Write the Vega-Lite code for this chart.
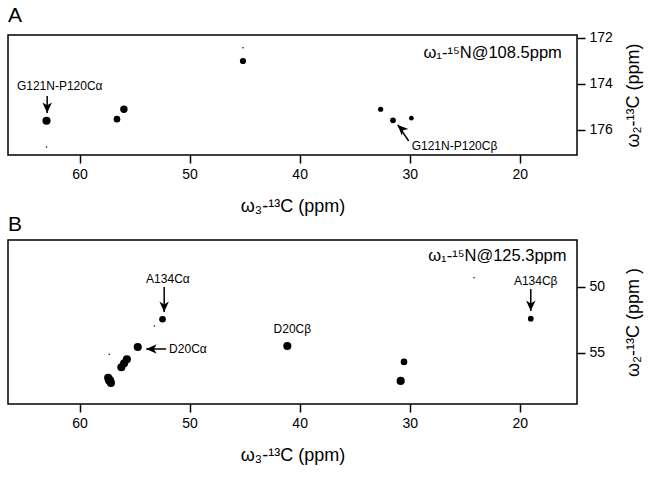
{
  "$schema": "https://vega.github.io/schema/vega-lite/v6.json",
  "background": "white",
  "padding": {"left": 7, "top": 4, "right": 4, "bottom": 4},
  "config": {
    "font": "Liberation Sans",
    "view": {"stroke": "#000", "strokeWidth": 1.5},
    "axis": {"grid": false, "domain": false, "tickColor": "#000", "tickWidth": 1.5, "tickSize": 8, "labelColor": "#000", "labelFontSize": 14, "titleFontSize": 18, "titleFontWeight": "normal", "titleColor": "#000", "labelPadding": 4},
    "title": {"fontSize": 21, "fontWeight": "normal", "anchor": "start", "color": "#000", "offset": 5},
    "concat": {"spacing": -3}
  },
  "datasets": {
    "peaksA": [
      {"x": 63.0, "y": 175.6, "intensity": 6},
      {"x": 63.0, "y": 176.74, "intensity": 0.2},
      {"x": 56.6, "y": 175.53, "intensity": 4},
      {"x": 55.97, "y": 175.1, "intensity": 5},
      {"x": 45.15, "y": 173.0, "intensity": 3.5},
      {"x": 45.15, "y": 172.42, "intensity": 0.2},
      {"x": 32.64, "y": 175.1, "intensity": 2.5},
      {"x": 31.52, "y": 175.58, "intensity": 3},
      {"x": 29.85, "y": 175.49, "intensity": 2}
    ],
    "arrowsA": [
      {"x": 62.94, "y": 175.26, "tx": 62.94, "ty": 174.52, "dir": "down"},
      {"x": 31.09, "y": 175.78, "tx": 30.09, "ty": 176.48, "dir": "upleft"}
    ],
    "labelsCenterA": [{"x": 61.8, "y": 174.09, "label": "G121N-P120Cα"}],
    "labelsLeftA": [{"x": 29.82, "y": 176.7, "label": "G121N-P120Cβ"}],
    "headerA": [{"x": 16.18, "y": 172.65, "label": "ω₁-¹⁵N@108.5ppm"}],
    "peaksB": [
      {"x": 52.46, "y": 52.47, "intensity": 4},
      {"x": 53.2, "y": 52.98, "intensity": 0.2},
      {"x": 54.71, "y": 54.57, "intensity": 6},
      {"x": 57.3, "y": 55.12, "intensity": 0.2},
      {"x": 55.7, "y": 55.5, "intensity": 6},
      {"x": 55.95, "y": 55.8, "intensity": 6},
      {"x": 56.2, "y": 56.1, "intensity": 6},
      {"x": 57.4, "y": 56.9, "intensity": 6},
      {"x": 57.27, "y": 57.1, "intensity": 8},
      {"x": 57.15, "y": 57.3, "intensity": 6},
      {"x": 41.12, "y": 54.49, "intensity": 6},
      {"x": 30.52, "y": 55.7, "intensity": 4},
      {"x": 30.82, "y": 57.14, "intensity": 6},
      {"x": 19.0, "y": 52.42, "intensity": 3},
      {"x": 24.15, "y": 49.32, "intensity": 0.2}
    ],
    "arrowsB": [
      {"x": 52.31, "y": 51.92, "tx": 52.31, "ty": 50.02, "dir": "down"},
      {"x": 53.94, "y": 54.72, "tx": 52.13, "ty": 54.72, "dir": "left"},
      {"x": 19.0, "y": 51.84, "tx": 19.0, "ty": 50.17, "dir": "down"}
    ],
    "labelsCenterB": [
      {"x": 51.97, "y": 49.44, "label": "A134Cα"},
      {"x": 40.66, "y": 53.23, "label": "D20Cβ"},
      {"x": 18.55, "y": 49.57, "label": "A134Cβ"}
    ],
    "labelsLeftB": [{"x": 51.86, "y": 54.72, "label": "D20Cα"}],
    "headerB": [{"x": 15.75, "y": 47.67, "label": "ω₁-¹⁵N@125.3ppm"}]
  },
  "vconcat": [
    {
      "title": "A",
      "width": 569,
      "height": 120,
      "encoding": {
        "x": {"field": "x", "type": "quantitative", "scale": {"domain": [14.8, 66.5], "reverse": true, "nice": false, "zero": false}, "axis": {"values": [60, 50, 40, 30, 20], "title": "ω₃-¹³C (ppm)", "titlePadding": 16}},
        "y": {"field": "y", "type": "quantitative", "scale": {"domain": [171.87, 177.09], "reverse": true, "nice": false, "zero": false}, "axis": {"orient": "right", "values": [172, 174, 176], "title": "ω₂-¹³C (ppm)", "titleAngle": 270, "titleBaseline": "top", "titlePadding": 12}}
      },
      "layer": [
        {"data": {"name": "peaksA"}, "mark": {"type": "point", "filled": true, "shape": "circle", "color": "#000", "opacity": 1},
         "encoding": {"size": {"field": "intensity", "type": "quantitative", "scale": {"domain": [0, 10], "range": [0, 110]}, "legend": null}}},
        {"data": {"name": "arrowsA"}, "mark": {"type": "rule", "color": "#000", "strokeWidth": 1.5},
         "encoding": {"x2": {"field": "tx"}, "y2": {"field": "ty"}}},
        {"data": {"name": "arrowsA"}, "mark": {"type": "point", "filled": true, "color": "#000", "opacity": 1, "size": 90},
         "encoding": {"shape": {"field": "dir", "type": "nominal", "scale": {"domain": ["down", "left", "upleft"], "range": ["M0,0 L-1,-2.2 L0,-1.6 L1,-2.2 Z", "M0,0 L2.2,-1 L1.6,0 L2.2,1 Z", "M0,0 L2.26,0.85 L1.13,1.13 L0.85,2.26 Z"]}, "legend": null}}},
        {"data": {"name": "labelsCenterA"}, "mark": {"type": "text", "align": "center", "baseline": "middle", "fontSize": 12, "color": "#000"},
         "encoding": {"text": {"field": "label"}}},
        {"data": {"name": "labelsLeftA"}, "mark": {"type": "text", "align": "left", "baseline": "middle", "fontSize": 12, "color": "#000"},
         "encoding": {"text": {"field": "label"}}},
        {"data": {"name": "headerA"}, "mark": {"type": "text", "align": "right", "baseline": "middle", "fontSize": 16.5, "color": "#000"},
         "encoding": {"text": {"field": "label"}}}
      ]
    },
    {
      "title": "B",
      "width": 569,
      "height": 164,
      "encoding": {
        "x": {"field": "x", "type": "quantitative", "scale": {"domain": [14.8, 66.5], "reverse": true, "nice": false, "zero": false}, "axis": {"values": [60, 50, 40, 30, 20], "title": "ω₃-¹³C (ppm)", "titlePadding": 16}},
        "y": {"field": "y", "type": "quantitative", "scale": {"domain": [46.46, 58.89], "reverse": true, "nice": false, "zero": false}, "axis": {"orient": "right", "values": [50, 55], "title": "ω₂-¹³C (ppm )", "titleAngle": 270, "titleBaseline": "top", "titlePadding": 20}}
      },
      "layer": [
        {"data": {"name": "peaksB"}, "mark": {"type": "point", "filled": true, "shape": "circle", "color": "#000", "opacity": 1},
         "encoding": {"size": {"field": "intensity", "type": "quantitative", "scale": {"domain": [0, 10], "range": [0, 110]}, "legend": null}}},
        {"data": {"name": "arrowsB"}, "mark": {"type": "rule", "color": "#000", "strokeWidth": 1.5},
         "encoding": {"x2": {"field": "tx"}, "y2": {"field": "ty"}}},
        {"data": {"name": "arrowsB"}, "mark": {"type": "point", "filled": true, "color": "#000", "opacity": 1, "size": 90},
         "encoding": {"shape": {"field": "dir", "type": "nominal", "scale": {"domain": ["down", "left", "upleft"], "range": ["M0,0 L-1,-2.2 L0,-1.6 L1,-2.2 Z", "M0,0 L2.2,-1 L1.6,0 L2.2,1 Z", "M0,0 L2.26,0.85 L1.13,1.13 L0.85,2.26 Z"]}, "legend": null}}},
        {"data": {"name": "labelsCenterB"}, "mark": {"type": "text", "align": "center", "baseline": "middle", "fontSize": 12, "color": "#000"},
         "encoding": {"text": {"field": "label"}}},
        {"data": {"name": "labelsLeftB"}, "mark": {"type": "text", "align": "left", "baseline": "middle", "fontSize": 12, "color": "#000"},
         "encoding": {"text": {"field": "label"}}},
        {"data": {"name": "headerB"}, "mark": {"type": "text", "align": "right", "baseline": "middle", "fontSize": 16.5, "color": "#000"},
         "encoding": {"text": {"field": "label"}}}
      ]
    }
  ]
}
